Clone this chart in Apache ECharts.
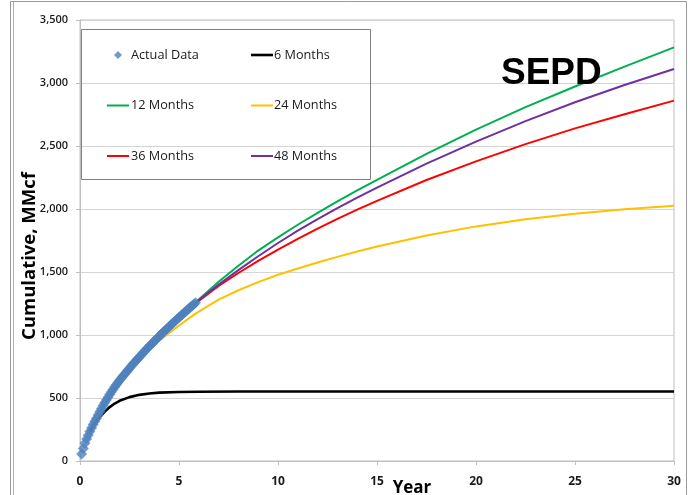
<!DOCTYPE html>
<html>
<head>
<meta charset="utf-8">
<script src="https://cdn.jsdelivr.net/npm/echarts@6/dist/echarts.min.js"></script>
<style>
  html, body { margin: 0; padding: 0; background: #ffffff; }
  #chart { width: 688px; height: 495px; }
</style>
</head>
<body>
<div id="chart"></div>
<script>
// Monthly cumulative production (MMcf), month number since first production
const actualMonth = [1,2,3,4,5,6,7,8,9,10,11,12,13,14,15,16,17,18,19,20,21,22,23,24,25,26,27,28,29,30,31,32,33,34,35,36,37,38,39,40,41,42,43,44,45,46,47,48,49,50,51,52,53,54,55,56,57,58,59,60,61,62,63,64,65,66,67,68,69,70];
const actualCum = [55,100,140,175,205,235,262,290,315,340,365,390,415,440,462,485,506,528,548,568,587,605,623,640,657,673,689,705,721,737,752,767,782,797,812,826,840,855,869,883,897,910,924,937,951,964,977,990,1003,1016,1029,1041,1054,1066,1079,1091,1103,1115,1128,1139,1151,1163,1175,1187,1198,1210,1222,1233,1244,1255];

// SEPD forecasts fitted on the first 6 / 12 / 24 / 36 / 48 months of history
const m6Years = [0.5,0.75,1,1.25,1.5,1.75,2,2.5,3,3.5,4,5,6,8,10,15,20,25,30];
const m6Cum = [235,298,348,392,428,456,478,507,525,536,543,548,550,551,551,551,551,551,551];

const m12Years = [1,2,3,4,5,5.83,7,8,9,10,11,12,13,14,15,17.5,20,22.5,25,27.5,30];
const m12Cum = [390,640,826,992,1142,1258,1422,1550,1670,1775,1875,1970,2060,2147,2232,2437,2630,2808,2972,3130,3283];

const m24Years = [2,3,4,5,5.83,7,8,9,10,11,12,13,14,15,17.5,20,22.5,25,27.5,30];
const m24Cum = [640,815,955,1075,1170,1280,1355,1420,1478,1528,1575,1620,1662,1702,1790,1862,1918,1962,1998,2026];

const m36Years = [3,4,5,5.83,7,8,9,10,11,12,13,14,15,17.5,20,22.5,25,27.5,30];
const m36Cum = [826,990,1138,1250,1390,1492,1588,1678,1762,1845,1922,1995,2065,2230,2378,2515,2640,2752,2860];

const m48Years = [4,5,5.83,7,8,9,10,11,12,13,14,15,17.5,20,22.5,25,27.5,30];
const m48Cum = [990,1140,1255,1400,1515,1625,1730,1828,1920,2007,2090,2170,2360,2535,2697,2847,2984,3111];

const yTicks = { min: 0, max: 3500, interval: 500 };
const xTicks = { min: 0, max: 30, interval: 5 };

const pairs = (xs, ys) => xs.map((x, i) => [x, ys[i]]);

const labelFont = '"Open Sans", "Liberation Sans", sans-serif';
const textColor = '#1a1a1a';

// legend glyphs: a short bar for the forecast lines, a small diamond for the history
const lineIcon = 'path://M0,0 L22,0 L22,2 L0,2 Z';
const thickLineIcon = 'path://M0,0 L22,0 L22,2.6 L0,2.6 Z';
const diamondIcon = 'path://M4,0 L8,4 L4,8 L0,4 Z';

function forecast(name, xs, ys, color, width) {
  return {
    name: name,
    type: 'line',
    data: pairs(xs, ys),
    showSymbol: false,
    symbol: 'none',
    smooth: false,
    lineStyle: { color: color, width: width },
    itemStyle: { color: color },
    z: 2
  };
}

const legendText = { fontFamily: labelFont, fontSize: 12.7, color: textColor, lineHeight: 14 };

const chart = echarts.init(document.getElementById('chart'), null, { renderer: 'canvas' });

chart.setOption({
  backgroundColor: '#ffffff',
  animation: false,
  title: {
    text: 'SEPD',
    left: 496,
    top: 50,
    textStyle: { fontFamily: '"Liberation Sans", Arial, sans-serif', fontWeight: 'bold', fontSize: 37, color: '#000000' }
  },
  grid: {
    left: 80, right: 14, top: 20, bottom: 34,
    show: true, borderColor: '#bfbfbf', borderWidth: 1, backgroundColor: 'transparent'
  },
  legend: [
    {
      orient: 'vertical', left: 107, top: 48, padding: 0, itemWidth: 22, itemHeight: 8, itemGap: 36.5,
      symbolKeepAspect: true,
      data: [
        { name: 'Actual Data', icon: diamondIcon },
        { name: '12 Months', icon: lineIcon },
        { name: '36 Months', icon: lineIcon }
      ],
      textStyle: Object.assign({ padding: [0, 0, 0, -3] }, legendText)
    },
    {
      orient: 'vertical', left: 251, top: 48, padding: 0, itemWidth: 22, itemHeight: 8, itemGap: 36.5,
      symbolKeepAspect: true,
      data: [
        { name: '6 Months', icon: thickLineIcon },
        { name: '24 Months', icon: lineIcon },
        { name: '48 Months', icon: lineIcon }
      ],
      textStyle: Object.assign({ padding: [0, 0, 0, -4] }, legendText)
    }
  ],
  xAxis: {
    type: 'value',
    min: xTicks.min, max: xTicks.max, interval: xTicks.interval,
    axisLine: { show: true, lineStyle: { color: '#bfbfbf', width: 1 } },
    axisTick: { show: true, length: 4, inside: false, lineStyle: { color: '#bfbfbf' } },
    splitLine: { show: false },
    axisLabel: { fontFamily: labelFont, fontWeight: 'bold', fontSize: 12, color: textColor, margin: 15 }
  },
  yAxis: {
    type: 'value',
    min: yTicks.min, max: yTicks.max, interval: yTicks.interval,
    axisLine: { show: true, lineStyle: { color: '#bfbfbf', width: 1 } },
    axisTick: { show: true, length: 4, lineStyle: { color: '#bfbfbf' } },
    splitLine: { show: true, lineStyle: { color: '#d4d4d4', width: 1 } },
    axisLabel: {
      fontFamily: labelFont, fontWeight: 600, fontSize: 11, color: textColor, margin: 12,
      formatter: v => v.toLocaleString('en-US')
    }
  },
  graphic: [
    // outer chart frame
    { type: 'rect', silent: true, shape: { x: 10.5, y: 1.5, width: 676, height: 500 },
      style: { fill: 'none', stroke: '#9a9a9a', lineWidth: 1 }, z: 0 },
    { type: 'line', silent: true, shape: { x1: 13.5, y1: 1.5, x2: 13.5, y2: 495 },
      style: { stroke: '#b0b0b0', lineWidth: 1 }, z: 0 },
    // legend frame
    { type: 'rect', silent: true, shape: { x: 81.5, y: 29.5, width: 289, height: 150 },
      style: { fill: 'none', stroke: '#7f7f7f', lineWidth: 1 }, z: 5 },
    // axis titles
    { type: 'text', silent: true, x: 30, y: 256, rotation: Math.PI / 2,
      style: { text: 'Cumulative, MMcf', fontFamily: labelFont, fontWeight: 'bold', fontSize: 18.5,
               fill: '#000000', align: 'center', verticalAlign: 'middle' }, z: 5 },
    { type: 'text', silent: true, x: 412, y: 488,
      style: { text: 'Year', fontFamily: labelFont, fontWeight: 'bold', fontSize: 17,
               fill: '#000000', align: 'center', verticalAlign: 'middle' }, z: 5 }
  ],
  series: [
    {
      name: 'Actual Data',
      type: 'scatter',
      data: pairs(actualMonth.map(m => m / 12), actualCum),
      symbol: 'diamond',
      symbolSize: 11,
      itemStyle: { color: '#4f81bd' },
      z: 5
    },
    forecast('6 Months', m6Years, m6Cum, '#000000', 2.6),
    forecast('12 Months', m12Years, m12Cum, '#00b050', 2),
    forecast('24 Months', m24Years, m24Cum, '#ffc000', 2),
    forecast('36 Months', m36Years, m36Cum, '#ff0000', 2),
    forecast('48 Months', m48Years, m48Cum, '#7030a0', 2)
  ]
});
</script>
</body>
</html>
